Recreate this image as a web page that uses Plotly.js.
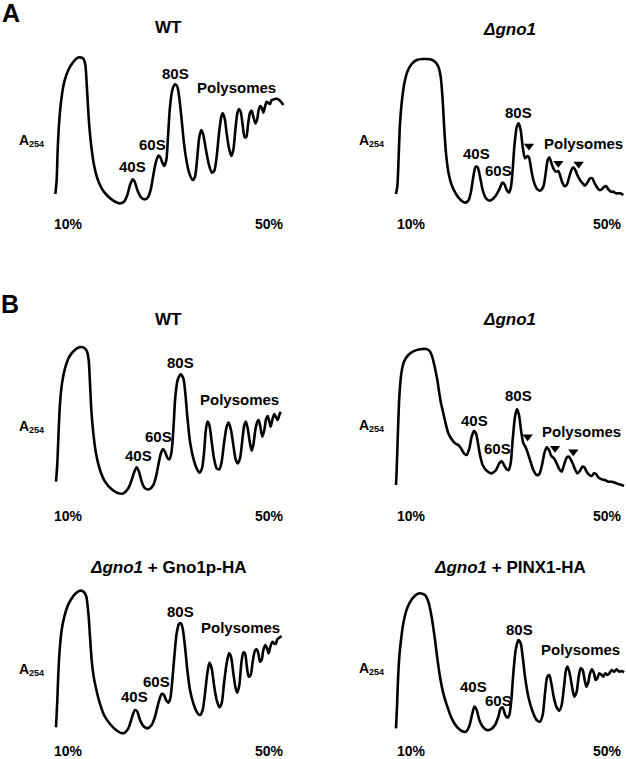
<!DOCTYPE html>
<html>
<head>
<meta charset="utf-8">
<script src="https://cdn.plot.ly/plotly-3.0.1.min.js"></script>
<style>
html,body{margin:0;padding:0;background:#fff;}
#chart{width:626px;height:759px;}
</style>
</head>
<body>
<div id="chart"></div>
<script>
// ---------- DATA (gradient position a.u., A254 a.u.) ----------
// Panel A, WT
const wtA_x = [76,80,83,88,95,103,115,128,140,150,160,166,170,174,178,184,192,202,215,230,250,268,282,292,300,308,314,322,333,345,355,363,370,378,385,391,397,403,409,414,420,427,435,442,448,455,462,470,478,488,495,502,508,514,520,528,537,546,553,560,567,574,578,584,590,597,604,610,616,622,627,632,638,644,649,654,660,665,670,676,681,686,691,696,700,705,710,716,720,725,732,740,748,755,760];
const wtA_y = [78,120,210,300,370,415,450,472,485,488,484,465,410,340,280,220,165,125,95,75,58,50,55,75,105,122,115,90,68,62,70,95,135,175,193,188,172,162,180,250,340,390,407,400,365,300,230,175,140,120,130,190,250,270,255,210,165,142,148,190,260,310,320,305,260,215,192,210,270,320,333,325,285,248,250,285,322,328,310,290,300,330,342,335,322,340,355,350,348,360,362,364,360,352,345];
// Panel A, delta gno1
const gnoA_x = [168,172,176,180,186,193,202,215,230,250,270,285,295,302,308,313,318,325,335,348,362,375,385,393,400,407,413,420,428,438,450,465,478,487,493,500,507,513,518,523,530,536,542,548,555,562,567,573,580,590,600,610,617,623,628,633,640,648,655,660,666,673,680,688,695,700,706,712,720,728,735,742,750,757,763,770,778,785,793,798,805,812,820,828,840,850];
const gnoA_y = [78,100,190,290,360,410,445,468,480,483,482,475,460,430,360,270,200,145,105,78,60,52,58,85,130,160,158,130,90,65,58,70,92,112,108,90,82,100,150,220,278,290,270,220,185,192,188,155,120,95,88,100,140,180,188,175,155,145,147,135,115,102,105,130,152,158,150,135,120,110,103,112,125,125,112,100,90,92,100,102,92,85,85,80,80,75];
const gnoA_arrows_x = [567,655,716];
const gnoA_arrows_y = [222,170,168];
// Panel B, WT
const wtB_x = [78,82,86,90,96,105,118,132,148,160,170,176,180,184,190,198,210,225,245,265,280,295,305,313,320,327,335,345,358,370,378,385,392,399,405,412,418,424,430,436,443,452,460,466,472,480,490,500,508,516,522,527,532,538,545,552,560,568,575,582,590,596,603,610,617,623,630,637,643,648,653,660,665,670,676,682,686,691,697,703,708,713,718,722,728,733,738,743,748,752];
const wtB_y = [85,140,240,320,380,425,460,478,488,488,478,450,380,300,230,170,120,85,62,50,50,65,90,115,128,115,85,65,62,75,100,135,168,183,175,157,152,170,240,340,390,407,395,350,280,205,155,125,112,125,170,235,265,255,205,155,125,122,145,200,250,262,240,195,152,140,155,210,255,265,245,200,178,195,240,265,270,250,220,240,272,282,265,250,275,288,278,270,285,295];
// Panel B, delta gno1
const gnoB_x = [168,170,174,178,184,192,205,220,240,258,268,276,284,292,298,303,310,318,325,333,345,355,363,372,380,388,395,402,408,414,420,428,440,455,468,478,485,492,500,506,512,518,525,531,537,543,550,556,562,570,580,590,598,606,613,620,627,634,642,650,658,665,672,680,687,694,700,706,712,720,727,733,740,748,755,762,768,775,785,795,805,815,825,835,845,852];
const gnoB_y = [75,120,240,340,410,445,465,476,482,483,478,462,430,390,350,320,290,255,230,215,200,195,185,170,165,185,220,237,230,200,165,135,118,110,120,140,147,135,122,120,140,210,280,303,285,240,200,190,175,150,120,105,108,135,170,188,180,162,155,140,122,115,135,157,160,148,135,120,110,118,130,128,115,105,102,110,108,98,92,90,85,85,82,78,75,72];
const gnoB_arrows_x = [563,645,700];
const gnoB_arrows_y = [220,185,175];
// Panel B, delta gno1 + Gno1p-HA
const gnoHA_x = [78,82,85,89,95,103,112,122,135,150,162,169,172,176,180,185,191,198,208,222,240,262,280,295,305,315,322,330,340,352,365,375,385,395,402,408,415,421,427,433,440,447,453,458,465,472,480,490,500,510,518,525,532,538,545,552,560,568,575,582,590,597,603,610,617,622,628,634,640,645,650,656,662,668,675,680,685,690,695,700,706,711,716,721,727,732,737,742,748,755];
const gnoHA_y = [38,120,200,270,330,370,400,420,438,448,444,430,410,370,310,240,190,155,115,75,48,27,20,35,65,90,85,60,42,35,45,70,110,138,135,120,112,125,180,250,320,348,350,335,280,210,150,110,85,75,90,140,200,232,215,165,120,98,110,170,230,260,250,200,155,142,165,230,263,260,225,190,195,235,268,272,260,235,240,270,285,275,260,280,295,290,288,302,307,312];
// Panel B, delta gno1 + PINX1-HA
const pinx_x = [168,171,174,178,183,190,198,208,220,238,255,265,272,278,285,292,300,310,322,335,350,365,378,388,396,403,410,418,428,440,452,465,475,482,488,495,502,508,514,520,527,535,542,548,555,565,578,590,600,608,615,622,628,634,642,650,658,665,672,678,683,690,697,703,710,716,722,728,734,739,744,750,756,762,767,772,778,785,790,796,802,808,815,822,830,838,845,852];
const pinx_y = [35,100,180,250,300,350,385,410,428,440,435,415,385,350,300,245,190,140,100,65,40,27,25,42,75,100,90,60,40,30,32,45,70,95,98,77,67,75,120,200,270,300,290,250,190,130,85,60,55,75,140,190,195,170,125,98,88,105,160,210,220,195,155,130,145,190,215,210,180,160,170,200,212,200,180,185,200,195,190,200,195,200,210,205,212,205,207,203];

const peakNames = ["40S","60S","80S","Polysomes"];
const panelTitles = ["WT","<i>Δgno1</i>","WT","<i>Δgno1</i>","<i>Δgno1</i> + Gno1p-HA","<i>Δgno1</i> + PINX1-HA"];
const gradientLabels = ["10%","50%"];
const panelLetters = ["A","B"];
const yLabelMain = "A";
const yLabelSub = "254";

// ---------- LAYOUT ----------
const W = 626, H = 759;
const FONT = "Liberation Sans, Arial, Helvetica, sans-serif";
const px = v => v / W;
const py = v => 1 - v / H;

const boxes = [
  {l:30, r:300, t:40, b:220, xr:810},
  {l:340, r:626, t:40, b:220, xr:858},
  {l:30, r:300, t:330, b:510, xr:810},
  {l:340, r:626, t:330, b:510, xr:858},
  {l:30, r:300, t:560, b:740, xr:810},
  {l:340, r:626, t:560, b:740, xr:858}
];
const series = [[wtA_x,wtA_y],[gnoA_x,gnoA_y],[wtB_x,wtB_y],[gnoB_x,gnoB_y],[gnoHA_x,gnoHA_y],[pinx_x,pinx_y]];
const labelPos = [
  [[307,160],[368,228],[435,440],[620,397]],
  [[410,200],[475,148],[535,322],[730,230]],
  [[325,162],[385,220],[452,443],[628,330]],
  [[403,268],[473,185],[535,342],[725,235]],
  [[312,130],[380,177],[450,385],[632,338]],
  [[400,160],[475,118],[537,332],[722,272]]
];
const titlePos = [[168,28],[509,29],[168,319],[509,320],[168,567],[510,567]];
const a254Pos = [[24,140],[364,140],[24,426],[364,425],[24,669],[364,668]];
const pctY = [224,224,516,516,751,751];
const pctX = [[68,269],[68,269],[411,607]];

const traces = [];
const layout = {
  width: W, height: H,
  margin: {l:0,r:0,t:0,b:0},
  paper_bgcolor: "#ffffff", plot_bgcolor: "rgba(0,0,0,0)",
  showlegend: false,
  font: {family: FONT, color: "#000", size: 14},
  annotations: []
};

function addText(x, y, text, size, xanchor) {
  layout.annotations.push({
    xref:"paper", yref:"paper", x: px(x), y: py(y), text: text,
    showarrow:false, xanchor: xanchor || "center", yanchor:"middle",
    font:{family:FONT, size:size, color:"#000"}
  });
}

boxes.forEach((b, i) => {
  const n = i + 1;
  const xa = n === 1 ? "x" : "x" + n;
  const ya = n === 1 ? "y" : "y" + n;
  const xk = n === 1 ? "xaxis" : "xaxis" + n;
  const yk = n === 1 ? "yaxis" : "yaxis" + n;
  layout[xk] = {domain:[px(b.l), px(b.r)], range:[0, b.xr], visible:false, fixedrange:true};
  layout[yk] = {domain:[py(b.b), py(b.t)], range:[0, 540], visible:false, fixedrange:true};
  traces.push({
    type:"scatter", mode:"lines", x: series[i][0], y: series[i][1],
    xaxis: xa, yaxis: ya,
    line: {color:"#000", width:2.6, shape:"spline", smoothing:0.7},
    cliponaxis:false, hoverinfo:"skip"
  });
  labelPos[i].forEach((p, k) => {
    layout.annotations.push({
      xref: xa, yref: ya, x: p[0], y: p[1], text: "<b>" + peakNames[k] + "</b>",
      showarrow:false, xanchor:"center", yanchor:"middle",
      font:{family:FONT, size:15, color:"#000"}
    });
  });
  addText(titlePos[i][0], titlePos[i][1], "<b>" + panelTitles[i] + "</b>", 17);
  addText(a254Pos[i][0], a254Pos[i][1], "<b>" + yLabelMain + "</b>", 14);
  addText(a254Pos[i][0] + 3, a254Pos[i][1] + 4, "<b>" + yLabelSub + "</b>", 9, "left");
  const col = b.l < 300 ? 0 : 2;
  gradientLabels.forEach((g, k) => {
    addText(pctX[col][k], pctY[i], "<b>" + g + "</b>", 14);
  });
});

[[gnoA_arrows_x, gnoA_arrows_y, "x2", "y2"], [gnoB_arrows_x, gnoB_arrows_y, "x4", "y4"]].forEach(a => {
  traces.push({
    type:"scatter", mode:"markers", x:a[0], y:a[1], xaxis:a[2], yaxis:a[3],
    marker:{symbol:"triangle-down", size:9, color:"#000", line:{width:0}},
    cliponaxis:false, hoverinfo:"skip"
  });
});

[[11,13],[10,304]].forEach((p, k) => {
  addText(p[0], p[1], "<b>" + panelLetters[k] + "</b>", 25);
});

Plotly.newPlot("chart", traces, layout, {displayModeBar:false, staticPlot:true});
</script>
</body>
</html>
